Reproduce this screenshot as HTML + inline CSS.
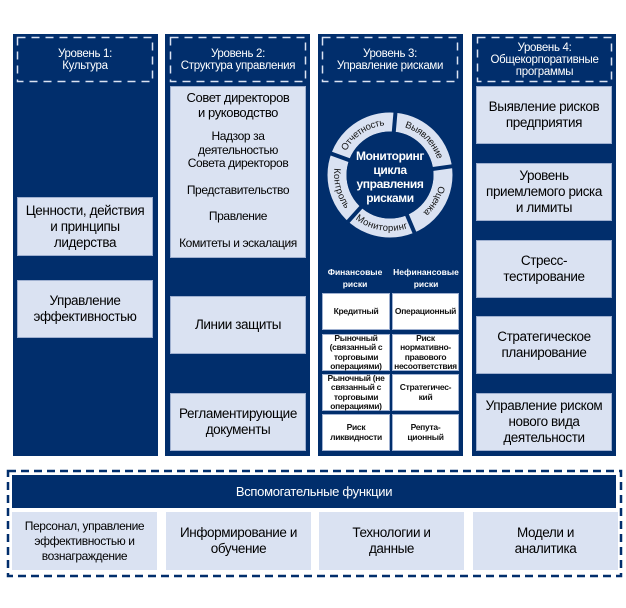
<!DOCTYPE html>
<html><head><meta charset="utf-8"><style>
body{margin:0;width:626px;height:608px;background:#fff;position:relative;overflow:hidden;font-family:"Liberation Sans","Noto Sans CJK SC",sans-serif;}
.a{position:absolute;box-sizing:border-box;}
.col{background:#012e6c;top:34px;height:422px;}
.hd{color:#fff;font-size:11.5px;line-height:12px;text-align:center;display:flex;align-items:center;justify-content:center;letter-spacing:-0.3px;}
.bx{background:#dae2f2;border:1px solid #9fb0d0;display:flex;align-items:center;justify-content:center;text-align:center;color:#000;font-size:13.5px;line-height:16px;letter-spacing:-0.4px;}
.c{background:#fff;border:1px solid #9fb0d0;display:flex;align-items:center;justify-content:center;text-align:center;font-size:8.5px;line-height:9.5px;font-weight:bold;color:#111;letter-spacing:-0.3px;}
</style></head><body>
<div class="a col" style="left:13px;width:145px"></div>
<div class="a col" style="left:165px;width:145px"></div>
<div class="a col" style="left:318px;width:145px"></div>
<div class="a col" style="left:472px;width:144px"></div>

<svg class="a" style="left:0;top:0" width="626" height="608">
<g fill="none" stroke="#dae2f2" stroke-width="1.5" stroke-dasharray="8 6">
<rect x="17.5" y="37.5" width="135" height="44"/>
<rect x="170.5" y="37.5" width="135" height="44"/>
<rect x="322.5" y="37.5" width="135" height="44"/>
<rect x="477.5" y="37.5" width="134" height="44"/>
</g>
<rect x="8" y="471" width="613" height="105" fill="none" stroke="#012e6c" stroke-width="2.5" stroke-dasharray="8 5"/>
</svg>

<div class="a hd" style="left:17px;top:37px;width:136px;height:45px">Уровень 1:<br>Культура</div>
<div class="a hd" style="left:170px;top:37px;width:136px;height:45px">Уровень 2:<br>Структура управления</div>
<div class="a hd" style="left:322px;top:37px;width:136px;height:45px">Уровень 3:<br>Управление рисками</div>
<div class="a hd" style="left:477px;top:37px;width:135px;height:45px">Уровень 4:<br>Общекорпоративные<br>программы</div>

<div class="a bx" style="left:17px;top:197px;width:136px;height:59px">Ценности, действия<br>и принципы<br>лидерства</div>
<div class="a bx" style="left:17px;top:280px;width:136px;height:58px">Управление<br>эффективностью</div>

<div class="a bx" style="left:170px;top:86px;width:136px;height:172px;flex-direction:column;justify-content:flex-start;padding-top:3px;font-size:12px;line-height:13.5px">
<div style="font-size:13px;line-height:15px">Совет директоров<br>и руководство</div>
<div style="margin-top:10px">Надзор за<br>деятельностью<br>Совета директоров</div>
<div style="margin-top:13px">Представительство</div>
<div style="margin-top:13px">Правление</div>
<div style="margin-top:13px">Комитеты и эскалация</div>
</div>
<div class="a bx" style="left:170px;top:296px;width:136px;height:58px">Линии защиты</div>
<div class="a bx" style="left:170px;top:393px;width:136px;height:58px">Регламентирующие<br>документы</div>

<svg class="a" style="left:318px;top:100px" width="145" height="150" viewBox="0 0 145 150">
<circle cx="72" cy="75" r="53" fill="none" stroke="#dae2f2" stroke-width="19"/>
<g stroke="#012e6c" stroke-width="4">
<line x1="72" y1="75" x2="72" y2="10" transform="rotate(5 72 75)"/>
<line x1="72" y1="75" x2="72" y2="10" transform="rotate(82 72 75)"/>
<line x1="72" y1="75" x2="72" y2="10" transform="rotate(157 72 75)"/>
<line x1="72" y1="75" x2="72" y2="10" transform="rotate(222 72 75)"/>
<line x1="72" y1="75" x2="72" y2="10" transform="rotate(290 72 75)"/>
</g>
<circle cx="72" cy="75" r="43.5" fill="#012e6c"/>
<path id="cw" d="M72,22 A53,53 0 1,1 71.9,22" fill="none"/>
<path id="ccw" d="M72,22 A53,53 0 1,0 72.1,22" fill="none"/>
<g font-family="Liberation Sans, sans-serif" font-size="9.5" fill="#111" text-anchor="middle" dominant-baseline="central">
<text><textPath href="#cw" startOffset="301">Отчетность</textPath></text>
<text><textPath href="#cw" startOffset="41">Выявление</textPath></text>
<text><textPath href="#cw" startOffset="111">Оценка</textPath></text>
<text><textPath href="#ccw" startOffset="157">Мониторинг</textPath></text>
<text><textPath href="#ccw" startOffset="97">Контроль</textPath></text>
</g>
<g fill="#fff" font-size="12" font-weight="bold" text-anchor="middle" font-family="Liberation Sans, sans-serif" letter-spacing="-0.4">
<text x="72" y="60">Мониторинг</text>
<text x="72" y="74">цикла</text>
<text x="72" y="88">управления</text>
<text x="72" y="102">рисками</text>
</g>
</svg>

<div class="a" style="left:320px;top:266px;width:70px;text-align:center;color:#fff;font-size:8.5px;line-height:12px;font-weight:bold">Финансовые<br>риски</div>
<div class="a" style="left:390px;top:266px;width:72px;text-align:center;color:#fff;font-size:8.5px;line-height:12px;font-weight:bold">Нефинансовые<br>риски</div>
<div class="a c" style="left:322px;top:293px;width:68px;height:37px">Кредитный</div>
<div class="a c" style="left:392px;top:293px;width:67px;height:37px">Операционный</div>
<div class="a c" style="left:322px;top:334px;width:68px;height:37px">Рыночный<br>(связанный с<br>торговыми<br>операциями)</div>
<div class="a c" style="left:392px;top:334px;width:67px;height:37px">Риск<br>нормативно-<br>правового<br>несоответствия</div>
<div class="a c" style="left:322px;top:374px;width:68px;height:37px">Рыночный (не<br>связанный с<br>торговыми<br>операциями)</div>
<div class="a c" style="left:392px;top:374px;width:67px;height:37px">Стратегичес-<br>кий</div>
<div class="a c" style="left:322px;top:414px;width:68px;height:37px">Риск<br>ликвидности</div>
<div class="a c" style="left:392px;top:414px;width:67px;height:37px">Репута-<br>ционный</div>

<div class="a bx" style="left:476px;top:86px;width:136px;height:58px">Выявление рисков<br>предприятия</div>
<div class="a bx" style="left:476px;top:163px;width:136px;height:58px">Уровень<br>приемлемого риска<br>и лимиты</div>
<div class="a bx" style="left:476px;top:240px;width:136px;height:58px">Стресс-<br>тестирование</div>
<div class="a bx" style="left:476px;top:316px;width:136px;height:58px">Стратегическое<br>планирование</div>
<div class="a bx" style="left:476px;top:393px;width:136px;height:58px">Управление риском<br>нового вида<br>деятельности</div>

<div class="a" style="left:12px;top:475px;width:604px;height:33px;background:#012e6c;color:#fff;font-size:13px;display:flex;align-items:center;justify-content:center;letter-spacing:-0.3px">Вспомогательные функции</div>
<div class="a bx" style="left:12px;top:512px;width:145px;height:58px;border:none;font-size:12px;line-height:15px">Персонал, управление<br>эффективностью и<br>вознаграждение</div>
<div class="a bx" style="left:166px;top:512px;width:145px;height:58px;border:none">Информирование и<br>обучение</div>
<div class="a bx" style="left:319px;top:512px;width:145px;height:58px;border:none">Технологии и<br>данные</div>
<div class="a bx" style="left:473px;top:512px;width:145px;height:58px;border:none">Модели и<br>аналитика</div>
</body></html>
